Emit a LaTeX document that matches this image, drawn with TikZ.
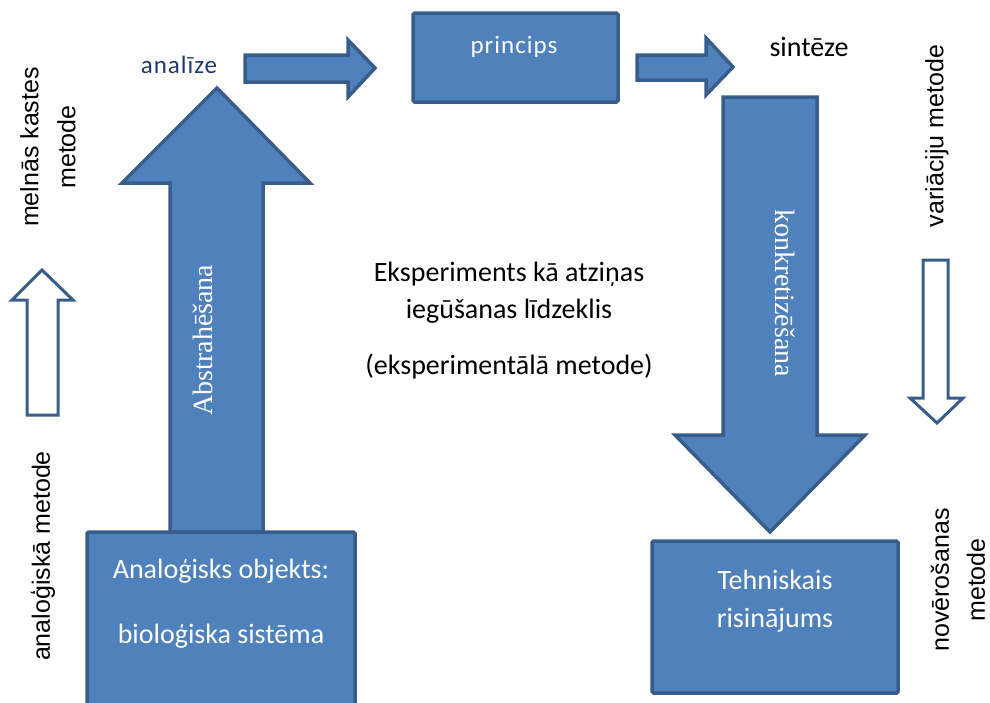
\documentclass[tikz,border=0pt]{standalone}
\usepackage{fontspec}
\setmainfont{Carlito}
\newfontfamily\blockserif{Liberation Serif}
\newfontfamily\sidesans{Liberation Sans}
\newfontfamily\widecarlito[LetterSpace=4]{Carlito}
\definecolor{blockfill}{HTML}{4F81BD}
\definecolor{blockline}{HTML}{385D8A}
\definecolor{navytext}{HTML}{1F3A6E}
\begin{document}
\begin{tikzpicture}[x=1pt,y=-1pt,
  block/.style={fill=blockfill,draw=blockline,line width=3.5pt,line join=miter},
  hollow/.style={fill=white,draw=blockline,line width=3pt,line join=miter},
  boxlabel/.style={text=white,font=\fontsize{28}{34}\selectfont,align=center,inner sep=0pt},
  plainlabel/.style={font=\fontsize{28}{34}\selectfont,align=center,inner sep=0pt},
  widelabel/.style={font=\widecarlito\fontsize{25}{30}\selectfont,inner sep=0pt},
  shaftlabel/.style={text=white,font=\blockserif\fontsize{28}{34}\selectfont,inner sep=0pt},
  sidelabel/.style={font=\sidesans\fontsize{25}{37}\selectfont,align=center,inner sep=0pt,rotate=90}]
\useasboundingbox (0,0) rectangle (990,702);
\clip (0,0) rectangle (990,702);

% upward block arrow: abstraction
\draw[block] (170,532) -- (170,183) -- (122,183) -- (217,88) -- (310,183)
  -- (263,183) -- (263,532) -- cycle;
% biological system box
\draw[block,rounded corners=1.5pt] (87,532) rectangle (355,712);
\node[boxlabel,font=\fontsize{28}{65}\selectfont] (obj) at (221,604)
  {Analoģisks objekts:\\bioloģiska sistēma};
\node[shaftlabel,rotate=90] (abstr) at (203,340) {Abstrahēšana};

% arrow towards the principle
\draw[block] (245,55) -- (348,55) -- (348,40) -- (375,68) -- (348,97)
  -- (348,82) -- (245,82) -- cycle;
\node[widelabel,text=navytext] (anal) at (179,65) {analīze};

% principle box
\draw[block,rounded corners=1.5pt] (413,13) rectangle (618,102);
\node[widelabel,text=white] (princ) at (514,47) {princips};

% arrow towards synthesis
\draw[block] (637,55) -- (706,55) -- (706,38) -- (733,67) -- (706,95)
  -- (706,80) -- (637,80) -- cycle;
\node[plainlabel] (sint) at (809,47) {sintēze};

% downward block arrow: concretisation
\draw[block] (723,97) -- (817,97) -- (817,435) -- (865,435) -- (770,532)
  -- (675,435) -- (723,435) -- cycle;
\node[shaftlabel,rotate=-90] (konkr) at (785,293) {konkretizēšana};

% technical solution box
\draw[block,rounded corners=1.5pt] (652,541) rectangle (898,693);
\node[boxlabel,font=\fontsize{28}{38}\selectfont] (tech) at (775,601)
  {Tehniskais\\risinājums};

% central caption
\node[plainlabel,font=\fontsize{28}{37}\selectfont] (exper) at (509,321)
  {Eksperiments kā atziņas\\iegūšanas līdzeklis\\[19pt](eksperimentālā metode)};

% hollow side arrows
\draw[hollow] (27,415) -- (27,300) -- (12,300) -- (42,270) -- (73,300)
  -- (58,300) -- (58,415) -- cycle;
\draw[hollow] (923,260) -- (948,260) -- (948,398) -- (963,398) -- (937,423)
  -- (910,398) -- (923,398) -- cycle;

% method names along the edges
\node[sidelabel] (black) at (48,147) {melnās kastes\\metode};
\node[sidelabel] (analog) at (43,556) {analoģiskā metode};
\node[sidelabel] (vari) at (937,136) {variāciju metode};
\node[sidelabel,font=\sidesans\fontsize{25}{36}\selectfont] (obs) at (958,580)
  {novērošanas\\metode};
\end{tikzpicture}
\end{document}
